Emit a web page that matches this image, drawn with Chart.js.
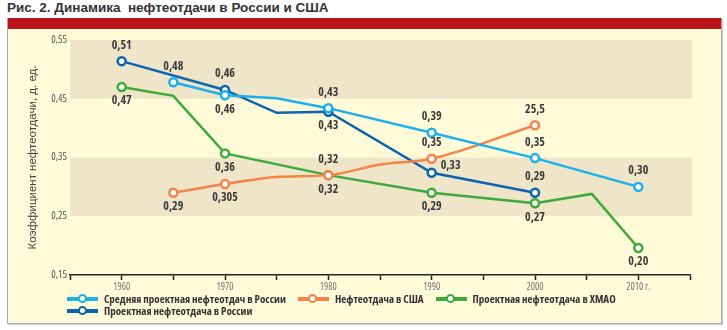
<!DOCTYPE html>
<html>
<head>
<meta charset="utf-8">
<title>Рис. 2. Динамика нефтеотдачи в России и США</title>
<script src="https://cdn.jsdelivr.net/npm/chart.js@4"></script>
<style>
    body { margin: 0; background: #fff; width: 727px; height: 330px; position: relative; overflow: hidden; font-family: 'Liberation Sans', Arial, sans-serif; }
    .title { position: absolute; left: 7px; top: 0px; font-size: 13.5px; font-weight: bold; color: #333; white-space: pre; }
    .frame { position: absolute; left: 7px; top: 18px; width: 713px; height: 305px; background: #fffad8; border: 1px solid #a9a9a9; border-top: none; box-shadow: 1px 1px 1px #d0d0d0; }
    .redbar { height: 11px; background: #b7141c; }
    #chartBox { position: absolute; left: 0; top: 11px; width: 713px; height: 270px; }
    #legend { position: absolute; left: 59px; top: 275px; width: 600px; display: flex; flex-wrap: wrap; column-gap: 12px;
              font-family: 'Open Sans', sans-serif; font-stretch: 75%; font-weight: bold; font-size: 11px; line-height: 12px; color: #333; }
    .item { display: flex; align-items: center; white-space: nowrap; }
    .mark { position: relative; width: 31px; height: 12px; margin-right: 6px; }
    .mark .bar { position: absolute; left: 0; top: 4px; width: 31px; height: 4px; }
    .mark .dot { position: absolute; left: 10.5px; top: 1px; width: 5px; height: 5px; border-radius: 50%; background: #fff; border: 2.5px solid; }
</style>
</head>
<body>
<div class="title">Рис. 2. Динамика  нефтеотдачи в России и США</div>
<div class="frame">
    <div class="redbar"></div>
    <div id="chartBox"><canvas id="chart"></canvas></div>
    <div id="legend"></div>
</div>

<script>
    // data
    const avgYears = [1965, 1970, 1975, 1980, 1990, 2000, 2010];
    const avgVals = [0.478, 0.456, 0.451, 0.434, 0.392, 0.349, 0.300];
    const avgLabels = ['0,48', '0,46', null, '0,43', '0,39', '0,35', '0,30'];

    const rusYears = [1960, 1970, 1975, 1980, 1990, 2000];
    const rusVals = [0.514, 0.465, 0.426, 0.428, 0.324, 0.290];
    const rusLabels = ['0,51', '0,46', null, '0,43', '0,33', '0,29'];

    const usaYears = [1965, 1970, 1975, 1980, 1985, 1990, 2000];
    const usaVals = [0.290, 0.305, 0.317, 0.320, 0.338, 0.348, 0.405];
    const usaLabels = ['0,29', '0,305', null, '0,32', null, '0,35', '25,5'];

    const hmaoYears = [1960, 1965, 1970, 1980, 1990, 2000, 2005.5, 2010];
    const hmaoVals = [0.470, 0.455, 0.357, 0.320, 0.290, 0.272, 0.288, 0.196];
    const hmaoLabels = ['0,47', null, '0,36', '0,32', '0,29', '0,27', null, '0,20'];

    const yTicks = [0.15, 0.25, 0.35, 0.45, 0.55];
    const yTickLabels = ['0,15', '0,25', '0,35', '0,45', '0,55'];
    const xTickLabels = ['1960', '1970', '1980', '1990', '2000', '2010 г.'];
    const bands = [[0.25, 0.35], [0.45, 0.55]];

    const narrow = "'Open Sans', sans-serif";

    function series(label, years, vals, labels, color, order, labelPos, extra) {
        return Object.assign({
            label: label,
            data: years.map((x, i) => ({ x: x, y: vals[i] })),
            pointLabels: labels,
            labelPos: labelPos,
            borderColor: color,
            backgroundColor: '#fff',
            borderWidth: 2.5,
            pointBorderWidth: 2.5,
            pointRadius: labels.map(l => l ? 4 : 0),
            pointBackgroundColor: '#fff',
            tension: 0,
            order: order
        }, extra || {});
    }

    const bandPlugin = {
        id: 'bands',
        beforeDraw(chart) {
            const { ctx, chartArea, scales: { y } } = chart;
            ctx.save();
            ctx.fillStyle = '#efe5c8';
            bands.forEach(([lo, hi]) => {
                const top = y.getPixelForValue(hi), bot = y.getPixelForValue(lo);
                ctx.fillRect(chartArea.left, top, chartArea.right - chartArea.left + 2, bot - top);
            });
            ctx.restore();
        }
    };

    const labelPlugin = {
        id: 'pointLabels',
        afterDatasetsDraw(chart) {
            const ctx = chart.ctx;
            ctx.save();
            ctx.font = 'bold condensed 12px ' + narrow;
            ctx.fillStyle = '#3a3a3a';
            ctx.textBaseline = 'middle';
            chart.data.datasets.forEach((ds, di) => {
                chart.getDatasetMeta(di).data.forEach((pt, i) => {
                    const txt = ds.pointLabels[i];
                    if (!txt) return;
                    const pos = ds.labelPos[i];
                    let x = pt.x, y = pt.y;
                    ctx.textAlign = 'center';
                    if (pos === 'a') y -= 16;
                    else if (pos === 'b') y += 14;
                    else { x += 9; y -= 7; ctx.textAlign = 'left'; }
                    ctx.fillText(txt, x, y);
                });
            });
            ctx.restore();
        }
    };

    const htmlLegend = {
        id: 'htmlLegend',
        afterUpdate(chart) {
            const box = document.getElementById('legend');
            box.innerHTML = '';
            chart.data.datasets.forEach(ds => {
                const item = document.createElement('div');
                item.className = 'item';
                item.innerHTML = '<span class="mark"><span class="bar" style="background:' + ds.borderColor +
                    '"></span><span class="dot" style="border-color:' + ds.borderColor + '"></span></span>';
                item.appendChild(document.createTextNode(ds.label));
                box.appendChild(item);
            });
        }
    };

    new Chart(document.getElementById('chart'), {
        type: 'line',
        data: {
            datasets: [
                series('Средняя проектная нефтеотдач в России', avgYears, avgVals, avgLabels, '#1cb0ec', 0,
                    ['a', 'b', null, 'a', 'a', 'a', 'a']),
                series('Нефтеотдача в США', usaYears, usaVals, usaLabels, '#f5834a', 1,
                    ['b', 'b', null, 'a', null, 'a', 'a'], { cubicInterpolationMode: 'monotone' }),
                series('Проектная нефтеотдача в ХМАО', hmaoYears, hmaoVals, hmaoLabels, '#3daa3a', 3,
                    ['b', null, 'b', 'b', 'b', 'b', null, 'b']),
                series('Проектная нефтеотдача в России', rusYears, rusVals, rusLabels, '#0b64b0', 2,
                    ['a', 'a', null, 'b', 'r', 'a'])
            ]
        },
        options: {
            responsive: true,
            maintainAspectRatio: false,
            animation: false,
            layout: { padding: { top: 11, right: 31, left: 0, bottom: 0 } },
            plugins: { legend: { display: false }, tooltip: { enabled: false } },
            scales: {
                x: {
                    type: 'linear', min: 1955, max: 2015,
                    afterFit: s => { s.height = 24; },
                    grid: { drawOnChartArea: false, drawTicks: true, tickLength: 5, tickWidth: 1.5, color: '#222' },
                    border: { display: true, color: '#222', width: 1.5 },
                    ticks: {
                        stepSize: 5, autoSkip: false, maxRotation: 0, padding: 1, color: '#777',
                        font: { size: 10, weight: 'condensed', family: narrow },
                        callback: v => (v % 10 === 0 && v >= 1960 && v <= 2010) ? xTickLabels[(v - 1960) / 10] : ''
                    }
                },
                y: {
                    min: 0.15, max: 0.55,
                    afterFit: s => { s.width = 62; },
                    afterBuildTicks: s => { s.ticks = yTicks.map(v => ({ value: v })); },
                    grid: { display: false, drawTicks: false },
                    border: { display: false },
                    ticks: {
                        padding: 3, color: '#555', font: { size: 10.5, weight: 'condensed', family: narrow },
                        callback: (v, i) => yTickLabels[i]
                    },
                    title: {
                        display: true, text: 'Коэффициент нефтеотдачи, д. ед.', color: '#444',
                        font: { size: 11.5, family: "'Liberation Sans', Arial, sans-serif" }, padding: { top: 18, bottom: 0 }
                    }
                }
            }
        },
        plugins: [bandPlugin, labelPlugin, htmlLegend]
    });
</script>
</body>
</html>
